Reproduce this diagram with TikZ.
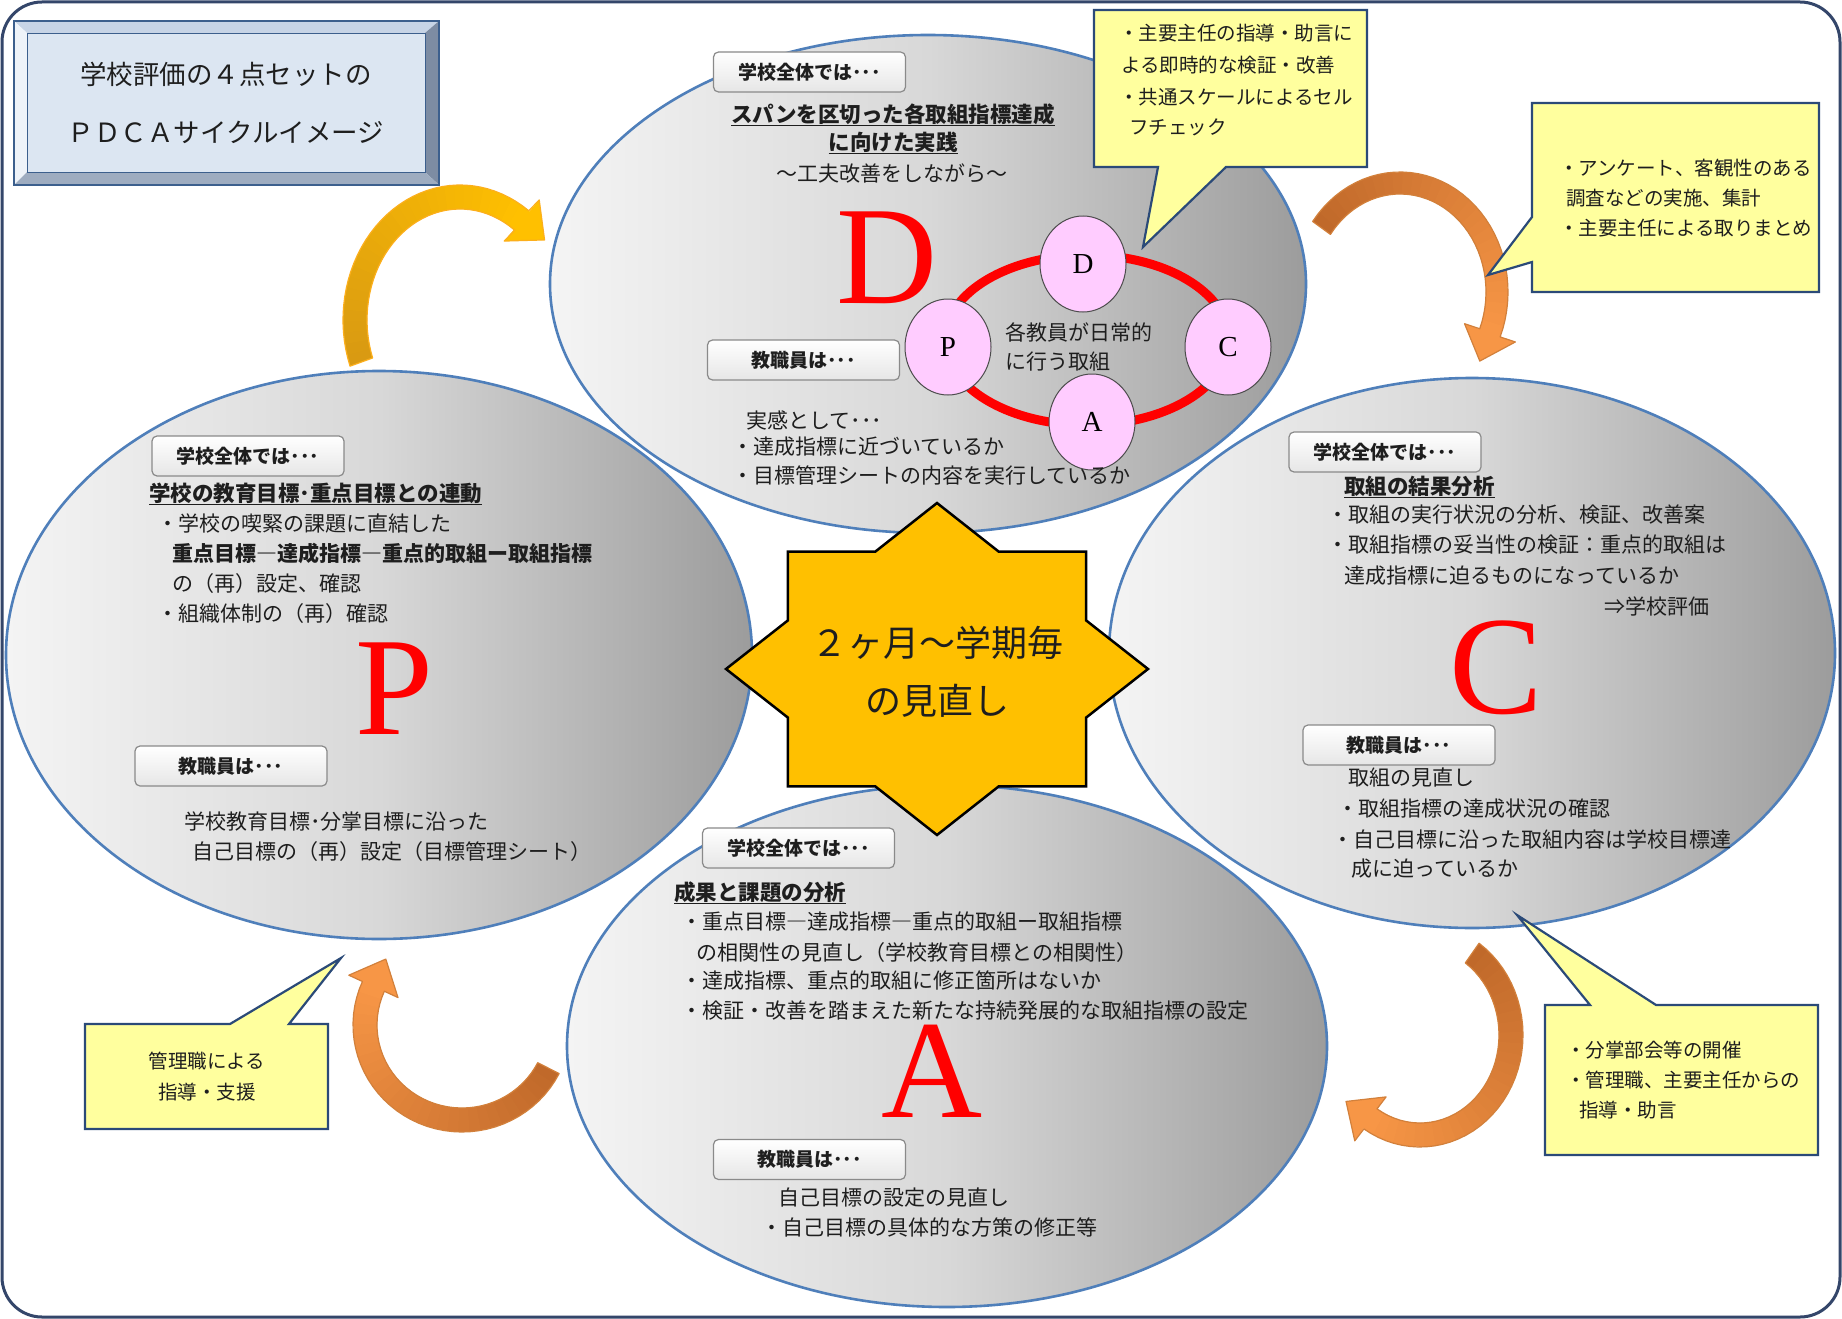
\documentclass[tikz,border=0pt]{standalone}
\usepackage{fontspec}
\setmainfont{Noto Sans CJK JP}
\newfontfamily\serifL{Liberation Serif}
\usetikzlibrary{shapes.geometric}

\definecolor{txtc}{HTML}{1E1E1E}
\definecolor{ellline}{HTML}{4F7FBA}
\definecolor{ellA}{HTML}{F4F4F4}
\definecolor{ellM}{HTML}{D8D8D8}
\definecolor{ellB}{HTML}{9C9C9C}
\definecolor{callfill}{HTML}{FFFF9E}
\definecolor{callline}{HTML}{2B4A78}
\definecolor{framec}{HTML}{34466A}
\definecolor{titlefill}{HTML}{DCE6F2}
\definecolor{titleline}{HTML}{3C5F8D}
\definecolor{bevT}{HTML}{C7D4E6}
\definecolor{bevL}{HTML}{EEF3F9}
\definecolor{bevR}{HTML}{7D8CA3}
\definecolor{bevB}{HTML}{9EACC0}
\definecolor{starfill}{HTML}{FFC000}
\definecolor{pinkc}{HTML}{FFCCFF}
\definecolor{lblline}{HTML}{8A8A8A}
\definecolor{lblbot}{HTML}{E6E6E6}
\definecolor{goldA}{HTML}{D99A12}
\definecolor{goldB}{HTML}{FFC000}
\definecolor{orA}{HTML}{C0692A}
\definecolor{orB}{HTML}{F79646}
\colorlet{arrline}{orB}

\newsavebox\ulbox
\newcommand\ulx[1]{\sbox\ulbox{#1}\usebox\ulbox\llap{\rule[-4pt]{\wd\ulbox}{1.6pt}}}

% curved band arrow: cx, cy, rx, ry, tail angle, head angle, half width, tail colour, head colour
\newcommand{\bandarrow}[9]{%
  \pgfmathsetmacro\cxA{#1}\pgfmathsetmacro\cyA{#2}%
  \pgfmathsetmacro\rxA{#3}\pgfmathsetmacro\ryA{#4}%
  \pgfmathsetmacro\tA{#5}\pgfmathsetmacro\tB{#6}\pgfmathsetmacro\hw{#7}%
  \foreach \k in {0,...,29}{%
    \pgfmathsetmacro\ta{\tA+(\tB-\tA)*\k/30}%
    \pgfmathsetmacro\tb{\tA+(\tB-\tA)*(\k+1.3)/30}%
    \pgfmathsetmacro\pc{100-100*\k/29}%
    \fill[#8!\pc!#9] ({\cxA+(\rxA+\hw)*cos(\ta)},{\cyA+(\ryA+\hw)*sin(\ta)}) -- ({\cxA+(\rxA+\hw)*cos(\tb)},{\cyA+(\ryA+\hw)*sin(\tb)}) -- ({\cxA+(\rxA-\hw)*cos(\tb)},{\cyA+(\ryA-\hw)*sin(\tb)}) -- ({\cxA+(\rxA-\hw)*cos(\ta)},{\cyA+(\ryA-\hw)*sin(\ta)}) -- cycle;%
  }%
  \pgfmathsetmacro\Bx{\cxA+\rxA*cos(\tB)}\pgfmathsetmacro\By{\cyA+\ryA*sin(\tB)}%
  \pgfmathsetmacro\ang{atan2(\ryA*cos(\tB),-\rxA*sin(\tB))}%
  \coordinate (tip) at ({\Bx+30*cos(\ang)},{\By+30*sin(\ang)});
  \coordinate (bo) at ({\Bx+27*sin(\ang)},{\By-27*cos(\ang)});
  \coordinate (bi) at ({\Bx-27*sin(\ang)},{\By+27*cos(\ang)});
  \coordinate (eo) at ({\cxA+(\rxA+\hw)*cos(\tB)},{\cyA+(\ryA+\hw)*sin(\tB)});
  \coordinate (ei) at ({\cxA+(\rxA-\hw)*cos(\tB)},{\cyA+(\ryA-\hw)*sin(\tB)});
  \fill[#9] (bo) -- (tip) -- (bi) -- cycle;
  \draw[arrline, line width=1.2pt, line join=round]
    plot[domain=\tA:\tB, samples=40, variable=\t] ({\cxA+(\rxA+\hw)*cos(\t)},{\cyA+(\ryA+\hw)*sin(\t)})
    -- (bo) -- (tip) -- (bi) -- (ei)
    -- plot[domain=\tB:\tA, samples=40, variable=\t] ({\cxA+(\rxA-\hw)*cos(\t)},{\cyA+(\ryA-\hw)*sin(\t)})
    -- cycle;
}

\tikzset{
  body/.style={inner sep=0pt, anchor=west, font=\fontsize{21}{25}\selectfont, text=txtc},
  bodyb/.style={body, font=\fontsize{21}{25}\selectfont\bfseries},
  headb/.style={body, font=\fontsize{21.5}{25}\selectfont\bfseries},
  callt/.style={inner sep=0pt, anchor=west, font=\fontsize{19.5}{23}\selectfont, text=txtc},
  lbl/.style={draw=lblline, line width=1.2pt, rounded corners=5pt, top color=white, bottom color=lblbot,
    minimum width=192pt, minimum height=40pt, inner sep=0pt, font=\fontsize{19}{22}\selectfont\bfseries, text=txtc},
  bigL/.style={inner sep=0pt, font=\serifL\fontsize{140}{140}\selectfont, text=red},
  minicirc/.style={shape=ellipse, draw=black!70, line width=1pt, fill=pinkc, minimum width=86pt,
    minimum height=96pt, inner sep=0pt, font=\serifL\fontsize{29}{29}\selectfont, text=black},
  ellshade/.style={left color=ellA, right color=ellB, middle color=ellM},
  ellout/.style={draw=ellline, line width=2.6pt},
  callout/.style={fill=callfill, draw=callline, line width=2.2pt, line join=miter},
  titletxt/.style={inner sep=0pt, font=\fontsize{26.5}{30}\selectfont, text=txtc},
  startxt/.style={inner sep=0pt, font=\fontsize{36}{40}\selectfont, text=txtc}
}

\begin{document}
\begin{tikzpicture}[x=1pt,y=-1pt]
\useasboundingbox (0,0) rectangle (1842,1319);
\fill[white] (0,0) rectangle (1842,1319);
\draw[framec, line width=3pt, rounded corners=40pt] (2,2) rectangle (1840,1317);

% ---------- ellipse fills ----------
\shade[ellshade] (379,655) ellipse [x radius=373pt, y radius=284pt];
\shade[ellshade] (1472,653) ellipse [x radius=363pt, y radius=275pt];
\shade[ellshade] (947,1046) ellipse [x radius=380pt, y radius=261pt];
\shade[ellshade] (928,284) ellipse [x radius=378pt, y radius=249pt];
% ---------- ellipse outlines ----------
\draw[ellout] (379,655) ellipse [x radius=373pt, y radius=284pt];
\draw[ellout] (1472,653) ellipse [x radius=363pt, y radius=275pt];
\draw[ellout] (947,1046) ellipse [x radius=380pt, y radius=261pt];
\draw[ellout] (928,284) ellipse [x radius=378pt, y radius=249pt];

% ---------- D ----------
\node[lbl] (dL1) at (809.5,72) {学校全体では･･･};
\node[headb, anchor=center] (dH1) at (893,115) {\ulx{スパンを区切った各取組指標達成}};
\node[headb, anchor=center] (dH2) at (893,143) {\ulx{に向けた実践}};
\node[body, anchor=center] (dT1) at (892,173) {～工夫改善をしながら～};
\node[bigL] (bigD) at (887,258) {D};
\draw[red, line width=9pt] (1087,340) ellipse [x radius=142pt, y radius=85pt];
\node[minicirc] (cD) at (1083,264) {D};
\node[minicirc] (cP) at (948,347) {P};
\node[minicirc] (cC) at (1228,347) {C};
\node[minicirc] (cA) at (1092,422) {A};
\node[body] (dT2) at (1005,332) {各教員が日常的};
\node[body] (dT3) at (1005,362) {に行う取組};
\node[lbl] (dL2) at (803.5,360) {教職員は･･･};
\node[body] (dT4) at (746,420) {実感として･･･};
\node[body] (dT5) at (732,447) {・達成指標に近づいているか};
\node[body] (dT6) at (732,475) {・目標管理シートの内容を実行しているか};

% ---------- P ----------
\node[lbl] (pL1) at (248,456) {学校全体では･･･};
\node[headb] (pH1) at (149,494) {\ulx{学校の教育目標･重点目標との連動}};
\node[body] (pT1) at (157,523) {・学校の喫緊の課題に直結した};
\node[bodyb] (pT2) at (172,553) {重点目標―達成指標―重点的取組ー取組指標};
\node[body] (pT3) at (172,584) {の（再）設定、確認};
\node[body] (pT4) at (157,614) {・組織体制の（再）確認};
\node[bigL] (bigP) at (394,689) {P};
\node[lbl] (pL2) at (231,766) {教職員は･･･};
\node[body] (pT5) at (184,822) {学校教育目標･分掌目標に沿った};
\node[body] (pT6) at (192,852) {自己目標の（再）設定（目標管理シート）};

% ---------- C ----------
\node[lbl] (cL1) at (1385,452) {学校全体では･･･};
\node[headb] (cH1) at (1344,487) {\ulx{取組の結果分析}};
\node[body] (cT1) at (1327,515) {・取組の実行状況の分析、検証、改善案};
\node[body] (cT2) at (1327,545) {・取組指標の妥当性の検証：重点的取組は};
\node[body] (cT3) at (1344,576) {達成指標に迫るものになっているか};
\node[body, anchor=east] (cT4) at (1710,606) {⇒学校評価};
\node[bigL] (bigC) at (1496,668) {C};
\node[lbl] (cL2) at (1399,745) {教職員は･･･};
\node[body] (cT5) at (1348,778) {取組の見直し};
\node[body] (cT6) at (1337,809) {・取組指標の達成状況の確認};
\node[body] (cT7) at (1332,839) {・自己目標に沿った取組内容は学校目標達};
\node[body] (cT8) at (1351,869) {成に迫っているか};

% ---------- A ----------
\node[lbl] (aL1) at (798.5,848) {学校全体では･･･};
\node[headb] (aH1) at (674,893) {\ulx{成果と課題の分析}};
\node[body] (aT1) at (681,922) {・重点目標―達成指標―重点的取組ー取組指標};
\node[body] (aT2) at (696,953) {の相関性の見直し（学校教育目標との相関性）};
\node[body] (aT3) at (681,981) {・達成指標、重点的取組に修正箇所はないか};
\node[body] (aT4) at (681,1011) {・検証・改善を踏まえた新たな持続発展的な取組指標の設定};
\node[bigL] (bigA) at (932,1071) {A};
\node[lbl] (aL2) at (809.5,1159.5) {教職員は･･･};
\node[body] (aT5) at (778,1198) {自己目標の設定の見直し};
\node[body] (aT6) at (761,1227) {・自己目標の具体的な方策の修正等};

% ---------- star ----------
\draw[fill=starfill, line width=2.5pt, line join=miter]
  (1148,669) -- (1086.1,717.6) -- (1086.2,786.4) -- (998.8,786.3) -- (937,835) -- (875.2,786.3)
  -- (787.8,786.4) -- (787.9,717.6) -- (726,669) -- (787.9,620.4) -- (787.8,551.6) -- (875.2,551.7)
  -- (937,503) -- (998.8,551.7) -- (1086.2,551.6) -- (1086.1,620.4) -- cycle;
\node[startxt] (s1) at (937,643) {２ヶ月～学期毎};
\node[startxt] (s2) at (937,701) {の見直し};

% ---------- arrows ----------
\colorlet{arrline}{goldB!60!orB}
\bandarrow{460}{320}{105}{123}{160}{306}{12}{goldA}{goldB}
\colorlet{arrline}{orB!85!black}
\bandarrow{1400}{292}{97}{109}{-144}{22}{11}{orA}{orB}
\bandarrow{1420}{1035}{91}{100}{-55}{123}{12}{orA}{orB}
\bandarrow{462}{1025}{97}{95}{27}{204}{12}{orA}{orB}

% ---------- callouts ----------
\draw[callout] (1094,10) -- (1367,10) -- (1367,167) -- (1226,167) -- (1143,247) -- (1158,167) -- (1094,167) -- cycle;
\node[callt] (q1) at (1119,33) {・主要主任の指導・助言に};
\node[callt] (q2) at (1121,65) {よる即時的な検証・改善};
\node[callt] (q3) at (1119,97) {・共通スケールによるセル};
\node[callt] (q4) at (1129,127) {フチェック};

\draw[callout] (1532,103) -- (1819,103) -- (1819,292) -- (1532,292) -- (1532,262) -- (1488,275) -- (1532,217) -- cycle;
\node[callt] (r1) at (1559,168) {・アンケート、客観性のある};
\node[callt] (r2) at (1566,198) {調査などの実施、集計};
\node[callt] (r3) at (1559,228) {・主要主任による取りまとめ};

\draw[callout] (1545,1005) -- (1590,1005) -- (1517,915) -- (1656,1005) -- (1818,1005) -- (1818,1155) -- (1545,1155) -- cycle;
\node[callt] (u1) at (1566,1050) {・分掌部会等の開催};
\node[callt] (u2) at (1566,1080) {・管理職、主要主任からの};
\node[callt] (u3) at (1579,1110) {指導・助言};

\draw[callout] (85,1024) -- (230,1024) -- (341,958) -- (289,1024) -- (328,1024) -- (328,1129) -- (85,1129) -- cycle;
\node[callt, anchor=center] (v1) at (207,1061) {管理職による};
\node[callt, anchor=center] (v2) at (207,1092) {指導・支援};

% ---------- title box ----------
\fill[bevT] (14,21) -- (439,21) -- (425,33) -- (27,33) -- cycle;
\fill[bevL] (14,21) -- (27,33) -- (27,172) -- (14,185) -- cycle;
\fill[bevR] (439,21) -- (439,185) -- (425,172) -- (425,33) -- cycle;
\fill[bevB] (14,185) -- (439,185) -- (425,172) -- (27,172) -- cycle;
\fill[titlefill] (27,33) rectangle (425,172);
\draw[titleline, line width=0.8pt] (27,33) rectangle (425,172);
\draw[titleline, line width=2.4pt] (14,21) rectangle (439,185);
\node[titletxt] (t1) at (226,74) {学校評価の４点セットの};
\node[titletxt] (t2) at (226,132) {ＰＤＣＡサイクルイメージ};
\end{tikzpicture}
\end{document}
